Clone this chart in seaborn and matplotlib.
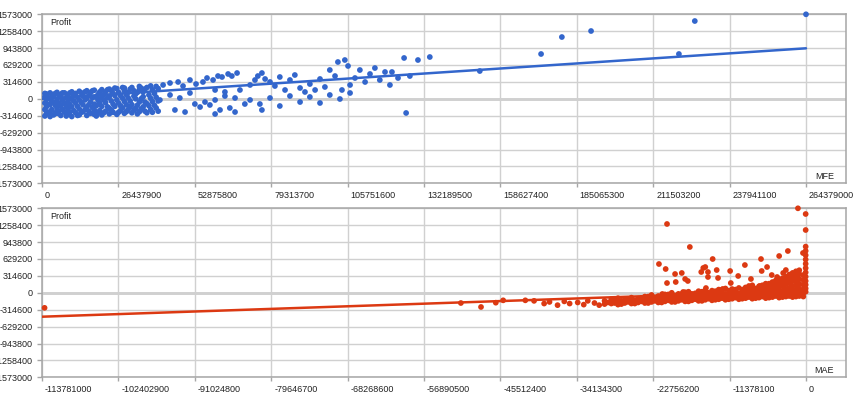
import numpy as np
import pandas as pd
import matplotlib
matplotlib.use("Agg")
import matplotlib.pyplot as plt
import matplotlib.transforms as mtransforms
import seaborn as sns

# ---------------- data (x in millions, profit in thousands) ----------------
# MFE panel: dense core near zero
mfe_core = [
    (1.0, -320), (1.0, -200), (1.0, -80), (1.0, 40), (1.0, 100),
    (1.5, -280), (1.5, -150), (1.5, -20), (1.5, 90),
    (2.8, -330), (2.8, -240), (2.8, -110), (2.8, 10), (2.8, 110),
    (4.0, -300), (4.0, -60), (4.0, 60),
    (5.2, -270), (5.2, -180), (5.2, -30), (5.2, 120),
    (6.5, -310), (6.5, -130), (6.5, 30), (6.5, 80),
    (7.8, -250), (7.8, -90), (7.8, 110),
    (9.0, -290), (9.0, -200), (9.0, -40), (9.0, 70),
    (10.3, -330), (10.3, -150), (10.3, 0), (10.3, 130),
    (11.6, -260), (11.6, -80), (11.6, 100),
    (12.9, -300), (12.9, -190), (12.9, -20), (12.9, 140),
    (14.2, -240), (14.2, -110), (14.2, 50),
    (15.5, -310), (15.5, -160), (15.5, 10), (15.5, 150),
    (16.8, -270), (16.8, -60), (16.8, 120),
    (18.1, -290), (18.1, -210), (18.1, -100), (18.1, 160),
    (19.4, -250), (19.4, -30), (19.4, 80),
    (20.7, -300), (20.7, -140), (20.7, 20), (20.7, 170),
    (22.0, -230), (22.0, -70), (22.0, 130),
    (23.3, -280), (23.3, -180), (23.3, 40), (23.3, 180),
    (24.6, -250), (24.6, -100), (24.6, 100),
    (25.9, -290), (25.9, -20), (25.9, 190),
    (27.2, -220), (27.2, -130), (27.2, 60),
    (28.5, -270), (28.5, -50), (28.5, 150), (28.5, 200),
    (29.8, -200), (29.8, 20), (29.8, 120),
    (31.1, -260), (31.1, -110), (31.1, 210),
    (32.4, -180), (32.4, 0), (32.4, 90),
    (33.7, -240), (33.7, -60), (33.7, 170), (33.7, 230),
    (35.0, -150), (35.0, 40), (35.0, 130),
    (36.3, -260), (36.3, -90), (36.3, 210),
    (37.6, -200), (37.6, 10), (37.6, 240),
    (38.9, -120), (38.9, 100),
    (40.2, -230), (40.2, -40), (40.2, 190),
]
mfe_core_fill = [
    (1.8, -250), (1.8, -100), (1.8, 30), (3.4, -200), (3.4, -50), (3.4, 80),
    (4.6, -260), (4.6, -120), (4.6, 100), (5.9, -90), (5.9, 40), (5.9, -230),
    (7.1, -200), (7.1, -30), (7.1, 110), (8.4, -320), (8.4, -150), (8.4, 20),
    (9.6, -250), (9.6, -100), (9.6, 110), (11.0, -220), (11.0, -40), (11.0, 60),
    (12.3, -140), (12.3, 30), (12.3, -310), (13.6, -250), (13.6, -70), (13.6, 110),
    (14.9, -200), (14.9, -20), (14.9, 130), (16.2, -230), (16.2, -110), (16.2, 60),
    (17.5, -160), (17.5, 20), (17.5, 150), (18.8, -130), (18.8, 30), (18.8, -320),
    (20.0, -220), (20.0, -80), (20.0, 130), (21.4, -260), (21.4, -20), (21.4, 80),
    (22.7, -150), (22.7, 20), (22.7, 170), (24.0, -210), (24.0, -40), (24.0, 150),
    (25.2, -140), (25.2, 60), (25.2, 200), (26.5, -250), (26.5, -80), (26.5, 120),
    (27.9, -170), (27.9, 10), (27.9, 210), (29.2, -240), (29.2, -110), (29.2, 80),
    (30.5, -150), (30.5, -40), (30.5, 180), (31.8, -210), (31.8, 50), (31.8, 150),
    (33.0, -120), (33.0, -280), (33.0, 120), (34.3, -190), (34.3, 0), (34.3, 200),
    (35.6, -230), (35.6, -60), (35.6, 180), (37.0, -130), (37.0, 70),
    (38.2, -250), (38.2, -50), (38.2, 170), (39.5, -170), (39.5, 30), (39.5, 230),
]
# MFE panel: spread-out points
mfe_spread = [
    (41.9, 257), (44.3, 294), (47.1, 313), (48.8, 238), (51.2, 350), (53.3, 275),
    (55.7, 313), (57.1, 387), (59.2, 350), (60.9, 424), (62.3, 406), (64.4, 462),
    (65.7, 424), (67.5, 480), (54.7, -153), (58.1, -115), (61.6, -208), (65.0, -171),
    (46.0, -208), (49.5, -246), (52.9, -97), (56.4, -60), (59.9, -22), (63.3, 52),
    (66.8, 15), (40.8, -22), (44.3, 71), (47.7, 15), (51.2, 108), (59.9, 164),
    (63.3, 127), (68.5, 164), (70.2, -97), (72.0, 257), (73.7, 350), (74.7, 424),
    (76.1, 480), (77.2, 369), (78.9, 313), (80.6, 238), (82.3, 406), (84.1, 164),
    (85.8, 350), (87.5, 443), (89.3, 201), (91.0, 127), (92.7, 275), (94.5, 164),
    (96.2, 369), (97.9, 220), (99.6, 536), (101.4, 424), (102.4, 685), (103.8, 164),
    (104.8, 722), (105.9, 611), (106.6, 257), (108.3, 387), (110.0, 536), (111.8, 313),
    (113.5, 462), (115.2, 573), (116.9, 350), (118.7, 499), (120.4, 257), (121.1, 499),
    (123.2, 387), (125.3, 760), (126.0, -264), (127.3, 424), (130.1, 722), (134.2, 778),
    (72.0, -22), (75.4, -97), (78.9, 15), (82.3, -134), (85.8, 52), (89.3, -60),
    (92.7, 34), (96.2, -78), (99.6, 71), (103.1, -4), (106.6, 108), (76.1, -208),
    (66.8, -246), (59.9, -283),
]
# MFE panel: large outliers
mfe_outliers = [
    (151.5, 517), (172.7, 834), (179.9, 1150), (190.0, 1262),
    (220.4, 834), (225.9, 1448), (264.379, 1573),
]
mfe_trend_x = [0, 264379000]
mfe_trend_y = [0, 940000]

# MAE panel
mae_tail = [
    (-113.4, -280), (-51.4, -190), (-48.4, -264), (-46.2, -184), (-45.1, -140),
    (-41.8, -140), (-40.5, -150), (-39.0, -200), (-38.2, -170), (-37.0, -230),
    (-36.0, -160), (-35.2, -200), (-34.0, -180), (-33.1, -220), (-32.5, -150),
    (-31.5, -190), (-30.8, -230),
]
mae_band = [
    (-30, -210), (-30, -150), (-29, -200), (-29, -120),
    (-28, -220), (-28, -160), (-28, -100), (-27, -190), (-27, -130),
    (-26, -200), (-26, -150), (-26, -90), (-25, -180), (-25, -110),
    (-24, -190), (-24, -140), (-24, -70), (-23, -170), (-23, -100), (-23, -40),
    (-22, -180), (-22, -130), (-22, -60), (-21, -160), (-21, -100), (-21, -30),
    (-20, -170), (-20, -120), (-20, -60), (-20, 0), (-19, -150), (-19, -90), (-19, -20),
    (-18, -160), (-18, -110), (-18, -50), (-18, 10), (-17, -140), (-17, -80), (-17, -20),
    (-16, -150), (-16, -100), (-16, -40), (-16, 30), (-15, -130), (-15, -70), (-15, -10), (-15, 50),
    (-14, -140), (-14, -90), (-14, -30), (-14, 40), (-13, -120), (-13, -60), (-13, 0), (-13, 60),
    (-12, -130), (-12, -80), (-12, -20), (-12, 80), (-11, -110), (-11, -50), (-11, 20), (-11, 70),
    (-10, -120), (-10, -70), (-10, -10), (-10, 90), (-9, -100), (-9, -40), (-9, 30), (-9, 100),
    (-8, -110), (-8, -60), (-8, 0), (-8, 80), (-8, 140), (-7, -90), (-7, -30), (-7, 40), (-7, 120),
    (-6, -100), (-6, -50), (-6, 10), (-6, 100), (-6, 170),
    (-5, -80), (-5, -20), (-5, 60), (-5, 140), (-5, 200),
    (-4, -90), (-4, -40), (-4, 30), (-4, 110), (-4, 190), (-4, 250),
    (-3, -70), (-3, -10), (-3, 70), (-3, 160), (-3, 240), (-3, 300),
    (-2, -80), (-2, -30), (-2, 50), (-2, 130), (-2, 220), (-2, 310), (-2, 370),
    (-1, -60), (-1, 0), (-1, 80), (-1, 170), (-1, 260), (-1, 350), (-1, 420),
    (-0.4, -70), (-0.4, -10), (-0.4, 60), (-0.4, 150), (-0.4, 240), (-0.4, 330),
]
mae_band_fill = [
    (-29.5, -180), (-28.5, -190), (-28.5, -130), (-27.5, -210), (-27.5, -150),
    (-26.5, -170), (-26.5, -120), (-25.5, -200), (-25.5, -140), (-24.5, -160),
    (-24.5, -100), (-23.5, -190), (-23.5, -130), (-23.5, -70), (-22.5, -150),
    (-22.5, -90), (-21.5, -180), (-21.5, -120), (-21.5, -60), (-20.5, -140),
    (-20.5, -90), (-20.5, -30), (-19.5, -170), (-19.5, -120), (-19.5, -50),
    (-18.5, -130), (-18.5, -80), (-18.5, -20), (-17.5, -160), (-17.5, -110),
    (-17.5, -50), (-17.5, 20), (-16.5, -120), (-16.5, -70), (-16.5, -10),
    (-15.5, -150), (-15.5, -100), (-15.5, -40), (-15.5, 20), (-14.5, -110),
    (-14.5, -60), (-14.5, 0), (-13.5, -130), (-13.5, -90), (-13.5, -30), (-13.5, 30),
    (-12.5, -100), (-12.5, -50), (-12.5, 10), (-12.5, 60), (-11.5, -120),
    (-11.5, -80), (-11.5, -20), (-11.5, 40), (-10.5, -90), (-10.5, -40),
    (-10.5, 20), (-10.5, 60), (-9.5, -110), (-9.5, -70), (-9.5, -10), (-9.5, 60),
    (-8.5, -80), (-8.5, -30), (-8.5, 30), (-8.5, 110), (-7.5, -100), (-7.5, -60),
    (-7.5, 10), (-7.5, 80), (-6.5, -70), (-6.5, -20), (-6.5, 50), (-6.5, 140),
    (-5.5, -90), (-5.5, -40), (-5.5, 30), (-5.5, 100), (-5.5, 170),
    (-4.5, -60), (-4.5, 0), (-4.5, 80), (-4.5, 160), (-4.5, 230),
    (-3.5, -80), (-3.5, -20), (-3.5, 40), (-3.5, 130), (-3.5, 210), (-3.5, 270),
    (-2.5, -60), (-2.5, 10), (-2.5, 90), (-2.5, 180), (-2.5, 270), (-2.5, 340),
    (-1.5, -70), (-1.5, -10), (-1.5, 60), (-1.5, 140), (-1.5, 230), (-1.5, 300),
    (-1.5, 400),
]
mae_upper = [
    (-0.05, 860), (-0.05, 780), (-0.05, 700), (-0.05, 620), (-0.05, 540), (-0.05, 460),
    (-0.05, 380), (-0.05, 300), (-0.05, 220), (-0.05, 150), (-0.05, 80), (-0.05, 20),
    (-0.05, 1169), (-0.05, 1467), (-1.2, 1573),
    (-20.7, 1281), (-17.3, 853), (-21.9, 536), (-20.9, 443), (-20.7, 182), (-19.5, 350),
    (-18.5, 369), (-19.4, 201), (-18.0, 257), (-17.6, 220), (-15.6, 387), (-15.3, 462),
    (-15.0, 480), (-14.6, 387), (-14.6, 294), (-13.9, 629), (-13.3, 424), (-13.1, 276),
    (-11.3, 406), (-11.2, 182), (-10.1, 313), (-9.1, 517), (-8.2, 257), (-6.7, 629),
    (-6.6, 406), (-5.8, 480), (-4.0, 685), (-3.0, 424), (-2.7, 778), (-0.45, 741),
    (-14.9, 89), (-18.3, 15), (-21.4, -22), (-12.4, 71), (-8.5, 127), (-6.9, 127),
    (-5.1, 331), (-4.3, 294), (-3.4, 369), (-1.9, 238), (-1.3, 331),
]
mae_trend_x = [-113781000, 0]
mae_trend_y = [-445000, 40000]

mfe_ticks = [0, 26437900, 52875800, 79313700, 105751600, 132189500,
             158627400, 185065300, 211503200, 237941100, 264379000]
mae_ticks = [-113781000, -102402900, -91024800, -79646700, -68268600,
             -56890500, -45512400, -34134300, -22756200, -11378100, 0]
profit_ticks = [-1573000, -1258400, -943800, -629200, -314600, 0,
                314600, 629200, 943800, 1258400, 1573000]


def to_frame(*groups):
    pts = [p for g in groups for p in g]
    return pd.DataFrame({"x": [p[0] * 1e6 for p in pts],
                         "profit": [p[1] * 1e3 for p in pts]})


df_mfe = to_frame(mfe_core, mfe_core_fill, mfe_spread, mfe_outliers)
df_mae = to_frame(mae_tail, mae_band, mae_band_fill, mae_upper)

# ---------------- figure ----------------
sns.set_style("white")
plt.rcParams["font.family"] = ["Liberation Sans", "DejaVu Sans"]

W, H = 860, 400
fig = plt.figure(figsize=(8.6, 4.0), dpi=100)
ax1 = fig.add_axes([42 / W, 1 - 183.3 / H, 804 / W, 169 / H])
ax2 = fig.add_axes([42 / W, 1 - 377.3 / H, 804 / W, 169 / H])

BLUE = "#3366cc"
RED = "#dc3912"
GRID = "#d0d0d0"
SPINE = "#a6a6a6"
TXT = "#222222"
FS = 6.5

panels = [
    (ax1, df_mfe, mfe_trend_x, mfe_trend_y, BLUE, mfe_ticks,
     (0, 264379000 * 804 / 764), "MFE"),
    (ax2, df_mae, mae_trend_x, mae_trend_y, RED, mae_ticks,
     (-113781000, 11378100 * 40 / 76.4), "MAE"),
]

offset = mtransforms.ScaledTranslation(3 / 100, 0, fig.dpi_scale_trans)

for ax, df, tx, ty, col, xt, xl, name in panels:
    ax.set_facecolor("white")
    ax.set_xlim(*xl)
    ax.set_ylim(-1573000, 1573000)
    ax.set_xticks(xt)
    ax.set_xticklabels([str(v) for v in xt])
    ax.set_yticks(profit_ticks)
    ax.set_yticklabels([str(v) for v in profit_ticks])
    ax.grid(True, color=GRID, lw=1.0, zorder=0)
    ax.axhline(0, color="#c4c4c4", lw=1.8, zorder=0.5)
    for s in ax.spines.values():
        s.set_color(SPINE)
        s.set_linewidth(1.1)
    ax.tick_params(axis="y", length=3.8, width=1, color=SPINE, pad=3,
                   labelsize=FS, labelcolor=TXT, left=True)
    ax.tick_params(axis="x", length=3.0, width=1, color=SPINE, pad=2.5,
                   labelsize=FS, labelcolor=TXT, bottom=True)
    for lab in ax.get_xticklabels():
        lab.set_horizontalalignment("left")
        lab.set_transform(lab.get_transform() + offset)

    sns.lineplot(x=tx, y=ty, ax=ax, color=col, lw=1.8, zorder=3)
    sns.scatterplot(data=df, x="x", y="profit", ax=ax, color=col,
                    s=17, linewidth=0, edgecolor="none", zorder=4)
    for c in ax.collections:
        c.set_clip_on(False)
    ax.set_xlabel("")
    ax.set_ylabel("")
    ax.text(8 / 804, 1 - 8 / 169, "Profit", transform=ax.transAxes,
            ha="left", va="center", fontsize=FS, color=TXT)
    ax.text(1 - 12 / 804, 7 / 169, name, transform=ax.transAxes,
            ha="right", va="center", fontsize=FS, color=TXT)

fig.savefig("out.png", dpi=100, facecolor="white")
